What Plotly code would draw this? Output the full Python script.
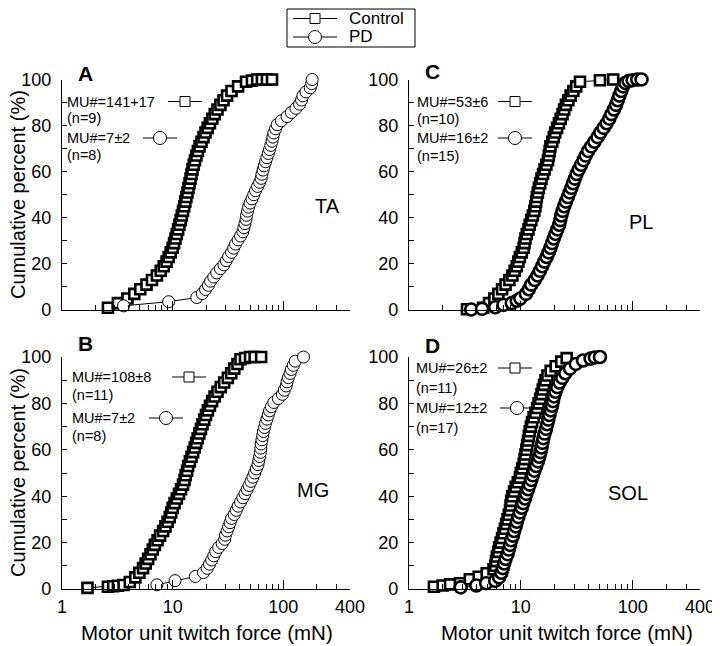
import math
import plotly.graph_objects as go

# ---- data: twitch force (mN) vs cumulative percent ----
# A  TA
ta_ctrl_force = [2.6, 3.2, 3.9, 4.5, 5.1, 5.8, 6.5, 7.2, 7.8, 8.3, 8.8, 9.2, 9.6, 10.0, 10.3,
                 10.6, 10.9, 11.2, 11.5, 11.8, 12.1, 12.4, 12.7, 13.0, 13.3, 13.6, 13.9, 14.2,
                 14.5, 14.8, 15.1, 15.5, 15.9, 16.4, 16.9, 17.5, 18.2, 19.0, 19.8, 20.7, 21.7,
                 22.8, 24.0, 25.4, 27.0, 28.8, 31.0, 34, 39, 46, 52, 58, 64, 71, 79]
ta_ctrl_pct = [1, 3, 5, 7, 9, 11, 13, 15, 17, 19, 21, 23, 25, 27, 29, 31, 33, 35, 37, 39, 41,
               43, 45, 47, 49, 51, 53, 55, 57, 59, 61, 63, 65, 67, 69, 71, 73, 75, 77, 79, 81,
               83, 85, 87, 89, 91, 93, 95, 97, 99, 99.5, 100, 100, 100, 100]
ta_pd_force = [3.6, 9.2, 16.5, 18.5, 19.8, 21, 22, 23.5, 25, 27, 29, 30.5, 32, 34, 35.5, 37,
               39, 41, 43, 44, 45, 46, 46.5, 47.5, 48.5, 50, 52, 54, 56, 58.5, 61, 63, 64,
               65.5, 67, 69, 71, 73, 75, 77, 79, 80.5, 82, 85, 88, 96, 108, 118, 130, 140,
               146, 150, 160, 175, 180, 182]
ta_pd_pct = [1.8, 3.6, 5.4, 7.1, 8.9, 10.7, 12.5, 14.3, 16.1, 17.9, 19.6, 21.4, 23.2, 25,
             26.8, 28.6, 30.4, 32.1, 33.9, 35.7, 37.5, 39.3, 41.1, 42.9, 44.6, 46.4, 48.2, 50,
             51.8, 53.6, 55.4, 57.1, 58.9, 60.7, 62.5, 64.3, 66.1, 67.9, 69.6, 71.4, 73.2, 75,
             76.8, 78.6, 80.4, 82.1, 83.9, 85.7, 87.5, 89.3, 91.1, 92.9, 94.6, 96.4, 98.2, 100]

# B  MG
mg_ctrl_force = [1.7, 2.6, 2.9, 3.2, 3.6, 4.1, 4.6, 5.0, 5.4, 5.7, 6.0, 6.3, 6.6, 6.9, 7.3, 7.7,
                 8.2, 8.6, 9.0, 9.4, 9.7, 10.0, 10.4, 10.9, 11.4, 11.9, 12.4, 12.8, 13.1, 13.5,
                 13.8, 14.3, 14.8, 15.3, 15.8, 16.3, 16.8, 17.4, 18.0, 18.6, 19.3, 20.0, 20.8,
                 21.7, 22.7, 23.9, 25.4, 27.2, 29.2, 31.5, 33.8, 36, 38.5, 41, 45, 50, 55, 63]
mg_ctrl_pct = [0.5, 1, 1.2, 1.4, 1.7, 3, 5, 7, 9, 11, 13, 15, 17, 19, 21, 23, 25, 27, 29, 31,
               33, 35, 37, 39, 41, 43, 45, 47, 49, 51, 53, 55, 57, 59, 61, 63, 65, 67, 69, 71,
               73, 75, 77, 79, 81, 83, 85, 87, 89, 91, 93, 95, 97, 99, 99.6, 100, 100, 100]
mg_pd_force = [7.2, 10.5, 16, 19, 20.5, 21.5, 22.5, 23.5, 24.5, 26, 28, 29.5, 30, 31, 32, 33,
               34, 36, 37.5, 39, 41, 43, 45, 47, 49, 51, 53, 55, 57, 59, 60, 61, 62, 62.5, 63,
               64, 65, 66, 67.5, 69, 71, 73, 75, 78, 82, 90, 98, 102, 106, 108, 111, 115, 118,
               123, 128, 152]
mg_pd_pct = ta_pd_pct

# C  PL
pl_ctrl_force = [3.3, 4.6, 5.2, 5.8, 6.3, 6.8, 7.3, 7.9, 8.4, 8.8, 9.2, 9.5, 9.8, 10.2, 10.6,
                 10.8, 11.0, 11.3, 11.7, 12.0, 12.4, 12.8, 13.2, 13.5, 13.7, 13.9, 14.2, 14.5,
                 14.9, 15.3, 15.8, 16.3, 16.9, 17.5, 17.8, 18.1, 18.4, 19.1, 19.7, 20.3, 21.1,
                 21.9, 22.7, 23.6, 24.4, 25.3, 26.6, 27.9, 29.5, 31.3, 33.8, 51, 67]
pl_ctrl_pct = [0.3, 1, 3, 5, 7, 9, 11, 13, 15, 17, 19, 21, 23, 25, 27, 29, 31, 33, 35, 37, 39,
               41, 43, 45, 47, 49, 51, 53, 55, 57, 59, 61, 63, 65, 67, 69, 71, 73, 75, 77, 79,
               81, 83, 85, 87, 89, 91, 93, 95, 97, 99, 99.7, 100]
pl_pd_force = [3.6, 4.5, 5.9, 7.0, 8.3, 9.2, 9.9, 11.1, 11.8, 12.4, 13.3, 14.1, 14.8, 15.5,
               16.2, 17.0, 17.7, 18.4, 19.0, 19.7, 20.4, 21.2, 22.0, 22.5, 23.0, 23.6, 24.4,
               25.3, 26.3, 27.3, 28.3, 29.3, 30.4, 31.5, 33.0, 34.6, 36.3, 38.0, 40.0, 42.6,
               45.5, 48.5, 51.5, 55.0, 58.6, 61.8, 64.5, 68.0, 71.0, 73.5, 76.0, 79.0, 82.0,
               86, 92, 100, 110, 120]
pl_pd_pct = [0.2, 0.5, 1.2, 2.2, 3, 4, 5, 7, 9, 11, 13, 15, 17, 19, 21, 23, 25, 27, 29, 31,
             33, 35, 37, 39, 41, 43, 45, 47, 49, 51, 53, 55, 57, 59, 61, 63, 65, 67, 69, 71,
             73, 75, 77, 79, 81, 83, 85, 87, 89, 91, 93, 95, 97, 98.5, 99.3, 99.7, 100, 100]

# D  SOL
sol_ctrl_force = [1.67, 2.0, 2.33, 2.86, 3.5, 4.2, 4.95, 5.7, 5.9, 6.0, 6.1, 6.3, 6.4, 6.6,
                  6.8, 7.0, 7.2, 7.4, 7.6, 7.8, 8.0, 8.1, 8.2, 8.4, 8.7, 9.0, 9.4, 9.8, 10.0,
                  10.3, 10.6, 10.8, 11.0, 11.2, 11.4, 11.6, 11.8, 12.0, 12.3, 12.6, 13.0, 13.5,
                  14.0, 14.4, 14.9, 15.3, 15.7, 16.1, 16.6, 17.3, 18.5, 20.5, 23, 25.7]
sol_ctrl_pct = [1, 1.5, 2, 2.5, 4.2, 5.3, 6.8, 8.5, 10, 12, 14, 16, 18, 20, 22, 24, 26, 28,
                30, 32, 34, 36, 38, 40, 42, 44, 46, 48, 50, 52, 54, 56, 58, 60, 62, 64, 66,
                68, 70, 72, 74, 76, 78, 80, 82, 84, 86, 88, 90, 92, 94, 96, 98, 99.5]
sol_pd_force = [2.9, 4.0, 4.9, 5.9, 6.4, 6.7, 6.9, 7.1, 7.3, 7.6, 7.8, 8.0, 8.2, 8.5, 8.7,
                9.0, 9.2, 9.5, 9.8, 10.2, 10.5, 10.9, 11.2, 11.6, 12.0, 12.4, 12.8, 13.2,
                13.7, 14.2, 14.6, 15.0, 15.3, 15.6, 15.9, 16.3, 16.8, 17.2, 17.6, 18.0, 18.5,
                19.0, 19.4, 19.8, 20.4, 21.2, 22.2, 23.5, 25.0, 27.5, 31, 36, 42, 46, 51]
sol_pd_pct = [0.7, 1.5, 2.5, 3.5, 5, 7, 9, 11, 13, 15, 17, 19, 21, 23, 25, 27, 29, 31, 33,
              35, 37, 39, 41, 43, 45, 47, 49, 51, 53, 55, 57, 59, 61, 63, 65, 67, 69, 71,
              73, 75, 77, 79, 81, 83, 85, 87, 89, 91, 93, 95, 97, 98.5, 99.3, 99.8, 100]

panel_letters = ["A", "B", "C", "D"]
muscles = ["TA", "MG", "PL", "SOL"]
ctrl_keys = ["MU#=141+17", "MU#=108±8", "MU#=53±6", "MU#=26±2"]
ctrl_n = ["(n=9)", "(n=11)", "(n=10)", "(n=11)"]
pd_keys = ["MU#=7±2", "MU#=7±2", "MU#=16±2", "MU#=12±2"]
pd_n = ["(n=8)", "(n=8)", "(n=15)", "(n=17)"]
x_ticks = [1, 10, 100, 400]
x_minor = [2, 3, 4, 5, 6, 7, 8, 9, 20, 30, 40, 50, 60, 70, 80, 90, 200, 300]
y_ticks = [0, 20, 40, 60, 80, 100]
y_minor = [10, 30, 50, 70, 90]

# the page body keeps its 8 px default margin, so the figure is drawn 8 px smaller
# and every layout position below is given in window pixels
PAGE = 8
W, H = 720 - PAGE, 646 - PAGE
FONT = "Liberation Sans, Arial, sans-serif"


def px(x):
    return (x - PAGE) / W


def py(y):
    return 1 - (y - PAGE) / H


# pixel boxes of the four panels: (left, right, top, bottom)
boxes = [(62, 350, 79.5, 310), (62, 350, 357, 589), (409, 700, 79.5, 310), (409, 700, 357, 589)]
series = [
    (ta_ctrl_force, ta_ctrl_pct, ta_pd_force, ta_pd_pct),
    (mg_ctrl_force, mg_ctrl_pct, mg_pd_force, mg_pd_pct),
    (pl_ctrl_force, pl_ctrl_pct, pl_pd_force, pl_pd_pct),
    (sol_ctrl_force, sol_ctrl_pct, sol_pd_force, sol_pd_pct),
]
# the dense curves get a heavier outline so the overlapping symbols read as a black band
pd_dense = [False, False, True, True]


def sym(kind, heavy):
    size = 10 if kind == "square" else 12
    return dict(symbol=kind, size=size, color="white",
                line=dict(color="black", width=2.6 if heavy else 1))


fig = go.Figure()
layout = dict(width=W, height=H, margin=dict(l=0, r=0, t=0, b=0), paper_bgcolor="white",
              plot_bgcolor="white", showlegend=False, font=dict(family=FONT, color="black"))
annotations, shapes = [], []

for i, (l, r, t, b) in enumerate(boxes):
    sfx = "" if i == 0 else str(i + 1)
    cf, cp, pf, pp = series[i]
    for fx, fy, mk in ((cf, cp, sym("square", True)), (pf, pp, sym("circle", pd_dense[i]))):
        fig.add_trace(go.Scatter(x=fx, y=fy, mode="lines+markers", cliponaxis=False,
                                 line=dict(color="black", width=1), marker=mk,
                                 xaxis="x" + sfx, yaxis="y" + sfx, hoverinfo="x+y"))
    bottom = i in (1, 3)
    layout["xaxis" + sfx] = dict(
        type="log", range=[0, math.log10(400)], domain=[px(l), px(r)], anchor="y" + sfx,
        automargin=False,
        showline=True, linecolor="black", linewidth=1.3, showgrid=False, zeroline=False,
        ticks="inside", ticklen=9, tickwidth=1.2, tickcolor="black",
        tickmode="array", tickvals=x_ticks, ticktext=[str(v) for v in x_ticks],
        showticklabels=bottom, tickfont=dict(size=18), ticklabelstandoff=1,
        minor=dict(tickmode="array", tickvals=x_minor, ticks="inside", ticklen=5,
                   tickwidth=1.2, tickcolor="black", showgrid=False))
    layout["yaxis" + sfx] = dict(
        range=[0, 100], domain=[py(b), py(t)], anchor="x" + sfx, automargin=False,
        showline=True, linecolor="black", linewidth=1.3, showgrid=False, zeroline=False,
        ticks="inside", ticklen=5, tickwidth=1.2, tickcolor="black",
        tickmode="array", tickvals=y_ticks, tickfont=dict(size=18), ticklabelstandoff=6,
        minor=dict(tickmode="array", tickvals=y_minor, ticks="inside", ticklen=5,
                   tickwidth=1.2, tickcolor="black", showgrid=False))

# panel texts (window pixel positions)
letter_pos = [(85, 73), (85, 343), (432, 72), (432, 345)]
muscle_pos = [(327, 206), (313, 490), (641, 222), (628, 493)]
key_rows = [(66, 101.5, 118, 138, 155, 185, 160),
            (71, 377, 395, 418, 436, 189, 166),
            (416, 101.5, 119, 138, 156, 515, 515),
            (415, 368, 388, 408, 428, 515, 517)]


def text(x, y, s, size, anchor="left", bold=False, angle=0):
    annotations.append(dict(x=px(x), y=py(y), xref="paper", yref="paper", text=s,
                            showarrow=False, xanchor=anchor, yanchor="middle",
                            textangle=angle, borderpad=0,
                            font=dict(size=size, family=FONT, color="black",
                                      weight="bold" if bold else "normal")))


def key(xc, y, kind, half=17):
    shapes.append(dict(type="line", xref="paper", yref="paper", x0=px(xc - half),
                       x1=px(xc + half), y0=py(y), y1=py(y), line=dict(color="black", width=1)))
    r = 5 if kind == "square" else 6.5
    shapes.append(dict(type="rect" if kind == "square" else "circle", xref="paper",
                       yref="paper", x0=px(xc - r), x1=px(xc + r), y0=py(y - r), y1=py(y + r),
                       fillcolor="white", line=dict(color="black", width=1)))


for i in range(4):
    lx, y1, y2, y3, y4, sq_x, ci_x = key_rows[i]
    text(letter_pos[i][0], letter_pos[i][1], panel_letters[i], 21, "center", bold=True)
    text(muscle_pos[i][0], muscle_pos[i][1], muscles[i], 20, "center")
    text(lx, y1, ctrl_keys[i], 14.5)
    text(lx, y2, ctrl_n[i], 14.5)
    text(lx, y3, pd_keys[i], 14.5)
    text(lx, y4, pd_n[i], 14.5)
    key(sq_x, y1, "square")
    key(ci_x, y3, "circle")

# axis titles
text(18, 195, "Cumulative percent (%)", 20, "center", angle=-90)
text(18, 473, "Cumulative percent (%)", 20, "center", angle=-90)
text(207, 632, "Motor unit twitch force (mN)", 20.5, "center")
text(567, 632, "Motor unit twitch force (mN)", 20.5, "center")

# legend box
shapes.append(dict(type="rect", xref="paper", yref="paper", x0=px(287), x1=px(415),
                   y0=py(47), y1=py(9), line=dict(color="black", width=1)))
key(315, 18.5, "square", half=22)
key(315, 37, "circle", half=22)
text(348, 18.5, "Control", 17)
text(348, 37, "PD", 17)

layout["annotations"] = annotations
layout["shapes"] = shapes
fig.update_layout(**layout)
fig.write_html("out.html")
